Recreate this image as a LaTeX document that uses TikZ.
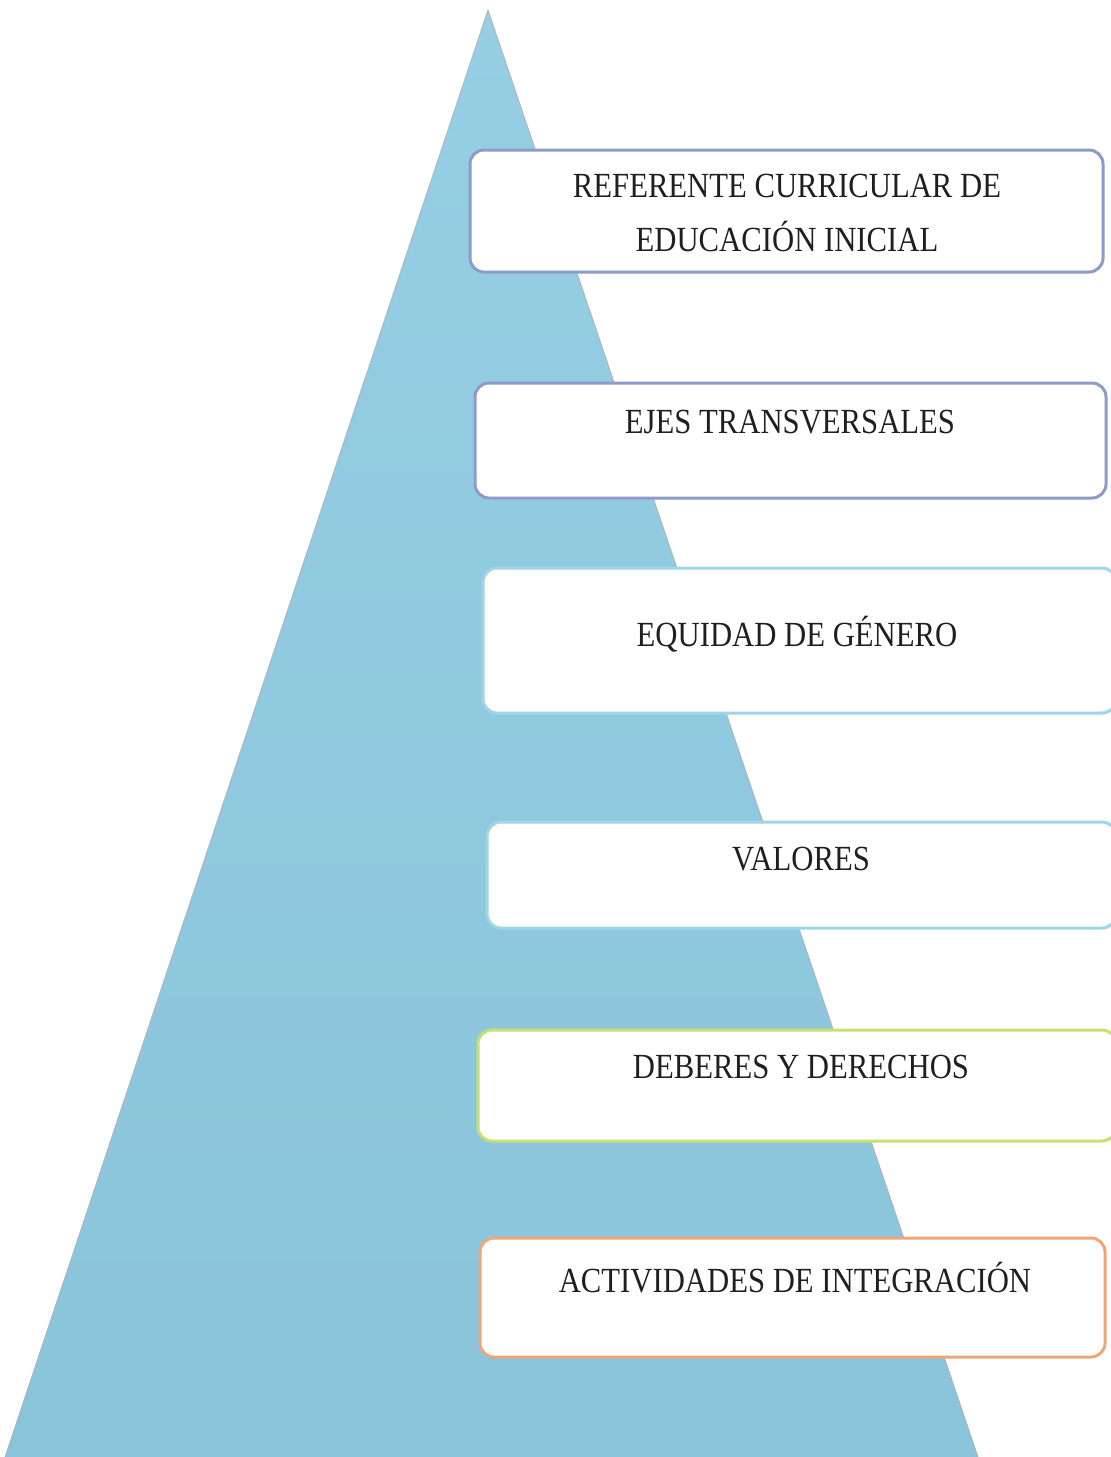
\documentclass[tikz,border=0pt]{standalone}
\usepackage{graphicx}
\usepackage{fontspec}
\setmainfont{Liberation Serif}
\newcommand\tallt[1]{\scalebox{1}[1.15]{#1}}
\begin{document}
\begin{tikzpicture}[x=1pt,y=-1pt,
  layerbox/.style={draw=#1, line width=3pt, rounded corners=14pt, fill=white},
  lbl/.style={font=\fontsize{30.7}{54}\selectfont, text=black!88, align=center, anchor=center}]
\definecolor{pyrtop}{RGB}{150,207,228}
\definecolor{pyrbot}{RGB}{138,196,218}
\definecolor{slate}{RGB}{140,155,200}
\definecolor{cyanb}{RGB}{160,212,230}
\definecolor{limeb}{RGB}{200,225,110}
\definecolor{orangeb}{RGB}{240,165,120}
\useasboundingbox (0,0) rectangle (1111,1457);
\fill[white] (0,0) rectangle (1111,1457);
% pyramid
\coordinate (apex) at (488,10);
\coordinate (bl) at (5,1457);
\coordinate (br) at (978,1457);
\shade[top color=pyrtop, bottom color=pyrbot] (apex) -- (br) -- (bl) -- cycle;
\draw[gray!60, line width=0.8pt] (bl) -- (apex) -- (br);
% boxes
\draw[layerbox=slate] (470,150) rectangle (1103,272);
\draw[layerbox=slate] (475,383) rectangle (1106,498);
\draw[layerbox=cyanb] (483,568) rectangle (1116,713);
\draw[layerbox=cyanb] (487,822) rectangle (1116,928);
\draw[layerbox=limeb] (478,1030) rectangle (1116,1141);
\draw[layerbox=orangeb] (480,1238) rectangle (1105,1357);
% labels
\node[lbl] (t1) at (787,213) {\tallt{REFERENTE CURRICULAR DE}\\\tallt{EDUCACIÓN INICIAL}};
\node[lbl] (t2) at (790,422) {\tallt{EJES TRANSVERSALES}};
\node[lbl] (t3) at (797,634) {\tallt{EQUIDAD DE GÉNERO}};
\node[lbl] (t4) at (801,859) {\tallt{VALORES}};
\node[lbl] (t5) at (801,1067) {\tallt{DEBERES Y DERECHOS}};
\node[lbl] (t6) at (795,1278) {\tallt{ACTIVIDADES DE INTEGRACIÓN}};
\end{tikzpicture}
\end{document}
